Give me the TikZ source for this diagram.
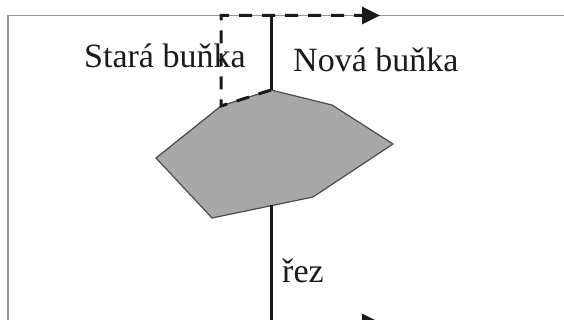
\documentclass[tikz,border=0pt]{standalone}
\usepackage{fontspec}
\setmainfont{Liberation Serif}
\usetikzlibrary{arrows.meta}
\definecolor{cellgray}{RGB}{168,168,168}
\definecolor{framegray}{RGB}{150,150,150}
\definecolor{inkcolor}{RGB}{30,25,25}

\begin{document}
\begin{tikzpicture}[x=1pt,y=-1pt,lbl/.style={anchor=base west,inner sep=0pt,font=\fontsize{34}{40}\selectfont,text=inkcolor},cut/.style={draw=inkcolor,line width=3pt},old/.style={draw=inkcolor,line width=3pt,dash pattern=on 13pt off 10pt},arr/.style={-{Triangle[length=18pt,width=17pt]}}]
\useasboundingbox (0,0) rectangle (564,320); \clip (0,0) rectangle (564,320);
\draw[framegray,line width=1.2pt] (570,15.5) -- (8,15.5) -- (8,330);
\coordinate (p1) at (271,90); \coordinate (p2) at (332,105); \coordinate (p3) at (393,144); \coordinate (p4) at (313,197);
\coordinate (p5) at (212,218); \coordinate (p6) at (156,158); \coordinate (p7) at (221,106);
\filldraw[fill=cellgray,draw=black!70,line width=1.2pt] (p1)--(p2)--(p3)--(p4)--(p5)--(p6)--(p7)--cycle;
\coordinate (ctop) at (271,15.5); \coordinate (cbot) at (271,205.5); \coordinate (cend) at (271,330);
\coordinate (otop) at (221,15.5); \coordinate (oend) at (380,15.5);
\coordinate (nstart) at (271,322.5); \coordinate (nend) at (380,322.5);
\draw[cut](ctop)--(p1); \draw[cut](cbot)--(cend); \draw[cut,arr](nstart)--(nend);
\draw[old,arr](p1)--(p7)--(otop)--(oend);
\node[lbl](old) at (84,68){Stará buňka}; \node[lbl](new) at (293,72){Nová buňka};
\node[lbl](rez) at (282,282){řez};
\end{tikzpicture}
\end{document}
